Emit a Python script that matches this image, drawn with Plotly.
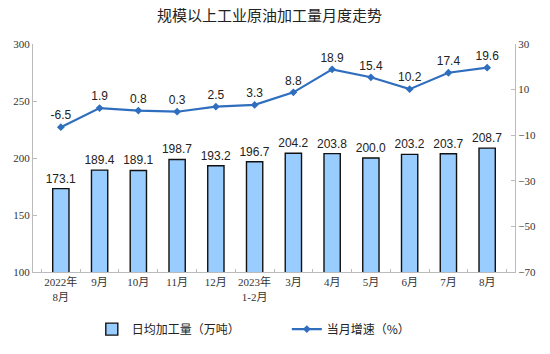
import plotly.graph_objects as go

categories = ["2022年<br>8月", "9月", "10月", "11月", "12月", "2023年<br>1-2月",
              "3月", "4月", "5月", "6月", "7月", "8月"]
daily_output = [173.1, 189.4, 189.1, 198.7, 193.2, 196.7, 204.2, 203.8, 200.0, 203.2, 203.7, 208.7]
growth_rate = [-6.5, 1.9, 0.8, 0.3, 2.5, 3.3, 8.8, 18.9, 15.4, 10.2, 17.4, 19.6]

fig = go.Figure()
fig.add_trace(go.Bar(
    x=categories, y=daily_output, name="日均加工量（万吨）" + "\u3000" * 4,
    marker=dict(color="#99CCFF", line=dict(color="#111111", width=1.4)),
    width=0.42,
    text=[f"{v:.1f}" for v in daily_output], textposition="outside",
    textangle=0, constraintext="none",
    textfont=dict(family="Liberation Sans, Arial", size=12, color="#222"),
    cliponaxis=False,
))
fig.add_trace(go.Scatter(
    x=categories, y=growth_rate, name="当月增速（%）", yaxis="y2",
    mode="lines+markers+text",
    line=dict(color="#2F6EBF", width=2.2),
    marker=dict(symbol="diamond", size=6, color="#2F6EBF"),
    text=[f"{v:.1f}" for v in growth_rate], textposition="top center",
    textfont=dict(family="Liberation Sans, Arial", size=12, color="#222"),
    cliponaxis=False,
))

fig.update_layout(
    width=550, height=354,
    margin=dict(l=33, r=35, t=44, b=81),
    paper_bgcolor="white", plot_bgcolor="white",
    title=dict(text="规模以上工业原油加工量月度走势", x=0.49, xanchor="center", y=0.955, yanchor="middle",
               font=dict(family="Noto Sans CJK SC", size=15, color="#222")),
    showlegend=True,
    legend=dict(orientation="h", x=0.122, xanchor="left", y=-0.245, yanchor="middle",
                font=dict(family="Noto Sans CJK SC", size=12, color="#222"),
                itemwidth=30, tracegroupgap=0),
    xaxis=dict(showline=True, linecolor="#bbbbbb", linewidth=1, ticks="inside", ticklen=3,
               tickcolor="#bbbbbb", tickson="boundaries", showgrid=False, tickangle=0,
               tickfont=dict(family="Liberation Serif, Noto Sans CJK SC", size=11, color="#333")),
    yaxis=dict(range=[100, 300], dtick=50, tick0=100, showline=True, linecolor="#bbbbbb", linewidth=1,
               ticks="inside", ticklen=4, tickcolor="#bbbbbb", showgrid=False, zeroline=False,
               tickfont=dict(family="Liberation Serif", size=11, color="#333")),
    yaxis2=dict(range=[-70, 30], dtick=20, tick0=-70, overlaying="y", side="right", showline=True,
                linecolor="#bbbbbb", linewidth=1, ticks="inside", ticklen=4, tickcolor="#bbbbbb",
                showgrid=False, zeroline=False,
                tickfont=dict(family="Liberation Serif", size=11, color="#333")),
)

fig.write_html("out.html")
